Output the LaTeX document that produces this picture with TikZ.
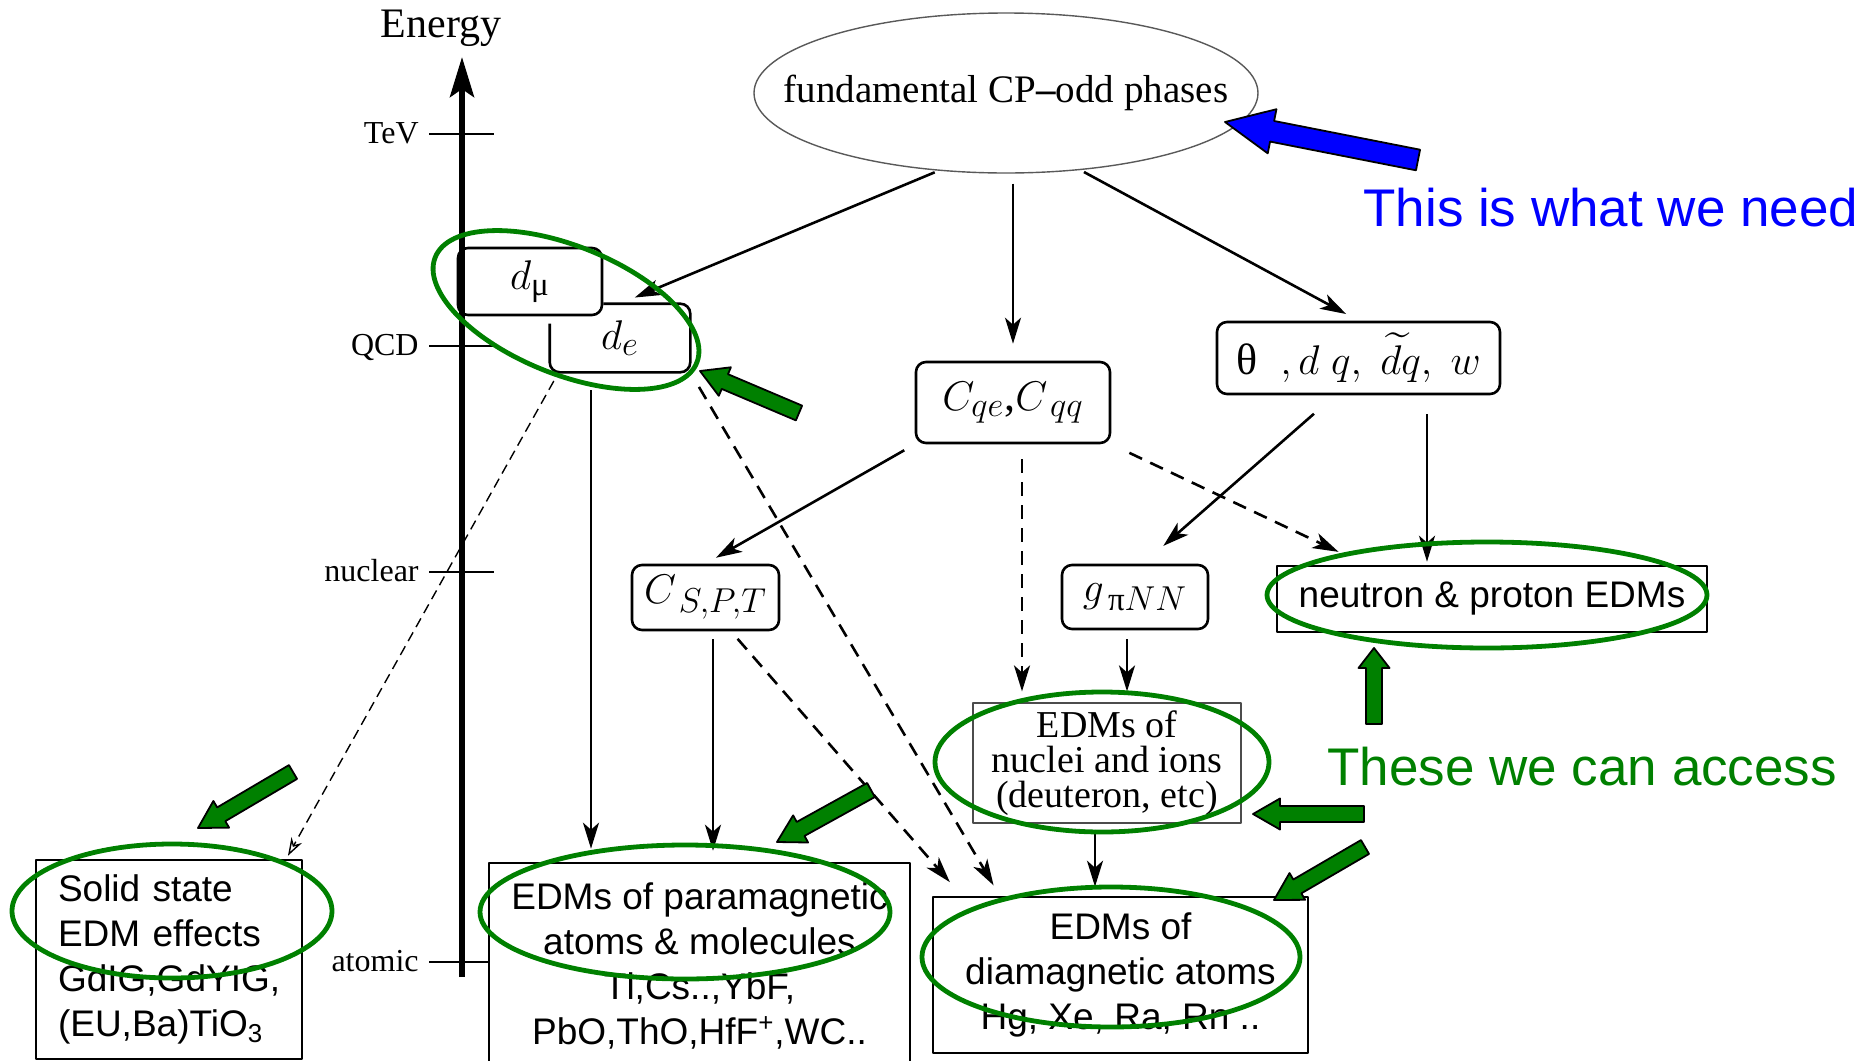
\documentclass[tikz,border=0pt]{standalone}
\usepackage{amsmath,amssymb}
\usepackage{fontspec}
\setmainfont{Liberation Serif}
\setsansfont{Liberation Sans}
\usepackage{tikz}
\usetikzlibrary{arrows,arrows.meta,positioning,calc,shapes}

\definecolor{edmgreen}{RGB}{0,128,0}
\definecolor{edmblue}{RGB}{0,0,255}
\DeclareMathSizes{22}{22}{16.5}{12}

% fat pointer: style, tail, tip, half shaft, half head, head length
\newcommand{\pointer}[6]{%
  \coordinate (#3-base) at ($(#3)!#6!(#2)$);
  \filldraw[#1] ($(#2)!#4!90:(#3)$) -- ($(#3-base)!#4!90:(#3)$) -- ($(#3-base)!#5!90:(#3)$) -- (#3)
    -- ($(#3-base)!#5!-90:(#3)$) -- ($(#3-base)!#4!-90:(#3)$) -- ($(#2)!#4!-90:(#3)$) -- cycle;}

\begin{document}
\begin{tikzpicture}[x=0.5pt,y=-0.5pt,>={Stealth[length=13pt,width=8pt,inset=3.5pt]},
			line join=round]
			\tikzstyle{param}=[draw,line width=1.3pt,rounded corners=5pt,font=\fontsize{22}{26}\selectfont]
			\tikzstyle{edmbox}=[draw,line width=1.3pt,align=center,font=\sffamily\fontsize{18.5}{22.5}\selectfont]
			\tikzstyle{ring}=[draw=edmgreen,line width=2.4pt,ellipse]
			\tikzstyle{link}=[->,line width=1.3pt]
			\tikzstyle{dlink}=[link,dash pattern=on 7pt off 4.5pt]
			\tikzstyle{thinlink}=[->,line width=0.7pt,dash pattern=on 5pt off 3pt,>={Stealth[length=9pt,width=6pt,open]}]
			\tikzstyle{lvl}=[anchor=base east,inner sep=0pt,font=\fontsize{16}{19}\selectfont]
			\tikzstyle{greenptr}=[fill=edmgreen,draw=black,line width=0.9pt]
			\tikzstyle{blueptr}=[fill=edmblue,draw=black,line width=0.9pt]
			
			\useasboundingbox (0,0) rectangle (1876,1061);
			
			% energy scale
			\node[anchor=base,inner sep=0pt,font=\fontsize{21}{25}\selectfont] (energy) at (441,37) {Energy};
			\coordinate (axbot) at (462,977);
			\coordinate (axtop) at (462,57);
			\draw[line width=3pt,-{Stealth[length=20pt,width=12pt,inset=4pt]}] (axbot) -- (axtop);
			\foreach \yy/\lab/\xe in {134/TeV/494,346/QCD/494,572/nuclear/494,962/atomic/489}{
				\draw[line width=0.7pt] (429,\yy) -- (\xe,\yy);
				\node[lvl] (lvl-\lab) at (419,\yy+9) {\lab};
			}
			
			% boxes
			\node[ellipse,draw=black!65,line width=0.7pt,minimum width=252pt,minimum height=80pt,
				font=\fontsize{19.5}{23}\selectfont] (cp) at (1006,93) {\makebox[0pt]{fundamental CP\textbf{--}odd phases}};
			\node[param,minimum width=72pt,minimum height=33.5pt] (dmu) at (530,281.5) {$d_{\text{μ}}$};
			\node[param,draw=none,minimum width=69pt,minimum height=33pt] (de) at (620,338) {$d_e$};
			\draw[line width=1.3pt,rounded corners=5pt] ([yshift=-10pt]de.north west) -- (de.south west)
				-- (de.south east) -- (de.north east) -- (dmu.east |- de.north);
			\node[param,minimum width=97pt,minimum height=40.5pt] (cqe) at (1013,402.5) {$C_{qe}$,$C_{\,qq}$};
			\node[param,minimum width=141.5pt,minimum height=36pt] (theta) at (1358.5,358)
				{$\text{θ}\;\;,d\;q,\;\widetilde{d}q,\;w$};
			\node[param,minimum width=73.5pt,minimum height=32.5pt] (cspt) at (705.5,597.5) {$C_{\,S,P,T}$};
			\node[param,minimum width=73pt,minimum height=32pt] (gpinn) at (1135,597) {$g_{\,\text{π}NN}$};
			\node[edmbox,minimum width=215pt,minimum height=33pt] (neutron) at (1492,599) {neutron \& proton EDMs};
			\node[draw=black!70,line width=0.6pt,align=center,minimum width=134pt,minimum height=60pt,
				font=\fontsize{19}{17.5}\selectfont] (nuclei) at (1107,763) {EDMs of\\nuclei and ions\\(deuteron, etc)};
			\node[edmbox,minimum width=187.5pt,minimum height=78pt] (dia) at (1120.5,975)
				{EDMs of\\diamagnetic atoms\\Hg, Xe, Ra, Rn ..};
			\node[edmbox,minimum width=210.5pt,minimum height=102.5pt] (para) at (699.5,965.5)
				{EDMs of paramagnetic\\atoms \& molecules\\Tl,Cs..,YbF,\\PbO,ThO,HfF\textsuperscript{+},WC..};
			\node[edmbox,align=left,text width=111pt,inner xsep=11pt,minimum height=99.5pt] (solid) at (169,959.5)
				{Solid state\\EDM effects\\GdIG,GdYIG,\\(EU,Ba)TiO\textsubscript{3}};
			
			\path
			(cp.229) edge[link,shorten <=2pt,shorten >=8pt] (de.north)
			(cp.south -| cqe.north) edge[link,shorten <=5pt,shorten >=8.5pt] (cqe.north)
			(cp.-46) edge[link,shorten <=2pt,shorten >=7pt] (theta.north)
			(cqe.south west) edge[link,shorten <=6pt,shorten >=6pt] (cspt.north)
			([xshift=4.5pt]cqe.south) edge[dlink,shorten <=7.5pt,shorten >=5.5pt] ([xshift=4.5pt]cqe.south |- nuclei.north)
			(cqe.south east) edge[dlink,shorten <=10pt,shorten >=15pt] ([xshift=45pt]neutron.north west)
			([xshift=-11.75pt]theta.south) edge[link,shorten <=14pt,shorten >=13.5pt] ([xshift=4pt]gpinn.north)
			([xshift=34.25pt]theta.south) edge[link,shorten <=9.5pt,shorten >=1.5pt] ([xshift=34.25pt]theta.south |- neutron.north)
			([xshift=-4pt]gpinn.south) edge[link,shorten <=4.5pt,shorten >=5.5pt] ([xshift=-4pt]gpinn.south |- nuclei.north)
			([xshift=-6pt]nuclei.south) edge[link,shorten <=3pt,shorten >=4.5pt] ([xshift=-6pt]nuclei.south |- dia.north)
			([xshift=-14.5pt]de.south) edge[link,shorten <=9pt,shorten >=6.5pt] ([xshift=-14.5pt]de.south |- para.north)
			([xshift=3.75pt]cspt.south) edge[link,shorten <=4pt,shorten >=5.5pt] ([xshift=3.75pt]cspt.south |- para.north)
			([xshift=12.75pt]cspt.south) edge[dlink,shorten <=5pt,shorten >=9pt] ([xshift=15pt]dia.north west)
			(de.south east) edge[dlink,shorten <=8.5pt,shorten >=6pt] ([xshift=34pt]dia.north west)
			([xshift=4.5pt]de.south west) edge[thinlink,shorten <=5pt,shorten >=1.7pt] ([xshift=-8.5pt]solid.north east);
			
			% green rings
			\node[ring,minimum width=141pt,minimum height=64pt,rotate=-22] (ring-de) at (566,310) {};
			\node[ring,minimum width=220pt,minimum height=53pt] (ring-neutron) at (1487,595) {};
			\node[ring,minimum width=167pt,minimum height=70pt] (ring-nuclei) at (1102,762) {};
			\node[ring,minimum width=189pt,minimum height=70pt] (ring-dia) at (1111,957) {};
			\node[ring,minimum width=205pt,minimum height=67pt] (ring-para) at (685,912) {};
			\node[ring,minimum width=160pt,minimum height=67pt] (ring-solid) at (172,911) {};
			
			% pointers
			\coordinate (p-de-tail) at (799,413);    \coordinate (p-de) at (700,371);
			\coordinate (p-solid-tail) at (293,772); \coordinate (p-solid) at (198,828);
			\coordinate (p-para-tail) at (871,790);  \coordinate (p-para) at (777,842);
			\coordinate (p-np-tail) at (1374,724);   \coordinate (p-np) at (1374,648);
			\coordinate (p-nuc-tail) at (1364,814);  \coordinate (p-nuc) at (1253,814);
			\coordinate (p-dia-tail) at (1365,847);  \coordinate (p-dia) at (1274,900);
			\coordinate (p-cp-tail) at (1418,160);   \coordinate (p-cp) at (1225,122);
			\pointer{greenptr}{p-de-tail}{p-de}{4pt}{7.75pt}{13.5pt}
			\pointer{greenptr}{p-solid-tail}{p-solid}{4pt}{7.75pt}{13.5pt}
			\pointer{greenptr}{p-para-tail}{p-para}{4pt}{7.75pt}{13.5pt}
			\pointer{greenptr}{p-np-tail}{p-np}{4pt}{7.75pt}{10pt}
			\pointer{greenptr}{p-nuc-tail}{p-nuc}{4pt}{7.75pt}{13.5pt}
			\pointer{greenptr}{p-dia-tail}{p-dia}{4pt}{7.75pt}{13.5pt}
			\pointer{blueptr}{p-cp-tail}{p-cp}{5.25pt}{11.25pt}{24pt}
			
			\node[anchor=base west,inner sep=0pt,text=edmblue,font=\sffamily\fontsize{26.5}{30}\selectfont] (need) at (1363,226) {This is what we need};
			\node[anchor=base west,inner sep=0pt,text=edmgreen,font=\sffamily\fontsize{26.5}{30}\selectfont] (access) at (1327,785) {These we can access};
\end{tikzpicture}
\end{document}
